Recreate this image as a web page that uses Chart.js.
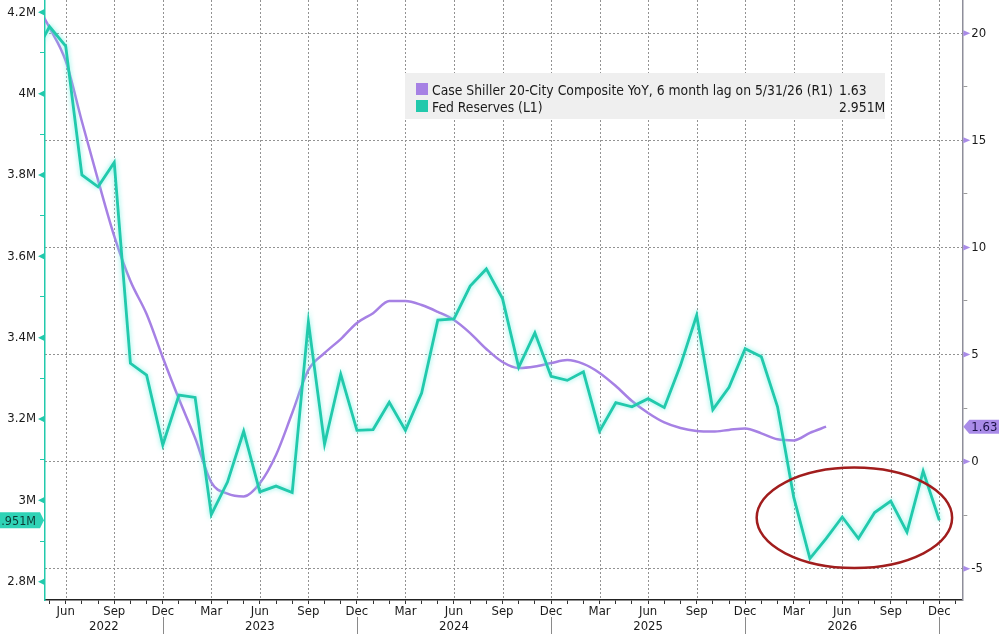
<!DOCTYPE html>
<html>
<head>
<meta charset="utf-8">
<script src="https://cdn.jsdelivr.net/npm/chart.js"></script>
<style>
  html, body { margin: 0; padding: 0; background: #fff; }
  #wrap { position: relative; width: 999px; height: 639px; }
  #legend { position: absolute; left: 405px; top: 73px; width: 480px; height: 46px; background: #efefef;
            font: 13.8px "DejaVu Sans Condensed", "DejaVu Sans", sans-serif; color: #1a1a1a; }
  #legend .sw { position: absolute; left: 11px; width: 12px; height: 12px; }
  #legend .tx { position: absolute; left: 27px; line-height: 16px; white-space: nowrap; }
  #legend .vl { position: absolute; left: 434px; line-height: 16px; white-space: nowrap; }
</style>
</head>
<body>
<div id="wrap">
  <canvas id="myChart" width="999" height="639"></canvas>
  <div id="legend">
    <div class="sw" style="top:10px;background:#a681e4"></div>
    <div class="tx" style="top:9px">Case Shiller 20-City Composite YoY, 6 month lag on 5/31/26 (R1)</div>
    <div class="vl" style="top:9px">1.63</div>
    <div class="sw" style="top:27px;background:#22c9ac"></div>
    <div class="tx" style="top:26px">Fed Reserves (L1)</div>
    <div class="vl" style="top:26px">2.951M</div>
  </div>
</div>
<script>
const FONT = '"DejaVu Sans Condensed", "DejaVu Sans", sans-serif';
const TEAL = '#22c9ac';
const PURPLE = '#a681e4';

// monthly observations, Apr 2022 .. Dec 2026
const months = [
  '2022-04','2022-05','2022-06','2022-07','2022-08','2022-09','2022-10','2022-11','2022-12',
  '2023-01','2023-02','2023-03','2023-04','2023-05','2023-06','2023-07','2023-08','2023-09','2023-10','2023-11','2023-12',
  '2024-01','2024-02','2024-03','2024-04','2024-05','2024-06','2024-07','2024-08','2024-09','2024-10','2024-11','2024-12',
  '2025-01','2025-02','2025-03','2025-04','2025-05','2025-06','2025-07','2025-08','2025-09','2025-10','2025-11','2025-12',
  '2026-01','2026-02','2026-03','2026-04','2026-05','2026-06','2026-07','2026-08','2026-09','2026-10','2026-11','2026-12'
];

// Fed Reserves, millions (left axis)
const fedReserves = [
  4.09, 4.165, 4.117, 3.800, 3.771, 3.831, 3.337, 3.308, 3.136,
  3.259, 3.253, 2.965, 3.045, 3.170, 3.021, 3.035, 3.019, 3.439, 3.138, 3.310, 3.172,
  3.174, 3.241, 3.172, 3.264, 3.443, 3.446, 3.527, 3.569, 3.496, 3.327, 3.412, 3.305,
  3.295, 3.316, 3.170, 3.240, 3.230, 3.250, 3.228, 3.332, 3.455, 3.223, 3.278, 3.373,
  3.353, 3.230, 3.008, 2.857, 2.906, 2.959, 2.906, 2.970, 2.998, 2.922, 3.072, 2.951
];

// Case Shiller 20-City YoY %, 6 month lag (right axis), Apr 2022 .. May 2026
const caseShiller = [
  21.6, 20.26, 18.71, 15.88, 13.14, 10.53, 8.43, 6.89, 4.86,
  2.92, 1.10, -0.97, -1.50, -1.63, -1.01, 0.31, 2.27, 4.28, 5.07, 5.72, 6.47,
  6.93, 7.50, 7.50, 7.31, 6.99, 6.61, 6.00, 5.26, 4.65, 4.37, 4.44, 4.60,
  4.74, 4.56, 4.14, 3.53, 2.83, 2.27, 1.83, 1.57, 1.43, 1.40, 1.48, 1.55,
  1.32, 1.04, 0.99, 1.34, 1.63
];

const monthNames = ['Jan','Feb','Mar','Apr','May','Jun','Jul','Aug','Sep','Oct','Nov','Dec'];
const years = [2022, 2023, 2024, 2025, 2026];
const leftTicks = [2.8, 2.9, 3.0, 3.1, 3.2, 3.3, 3.4, 3.5, 3.6, 3.7, 3.8, 3.9, 4.0, 4.1, 4.2];
const rightTicks = [-5, -2.5, 0, 2.5, 5, 7.5, 10, 12.5, 15, 17.5, 20];

// months since Jan 2022
function mIdx(s) {
  const [y, m] = s.split('-').map(Number);
  return (y - 2022) * 12 + (m - 1);
}
const tickMonths = [];
for (let m = 4; m <= 60; m++) tickMonths.push(m);
const isQuarter = m => m % 3 === 2;

const fedPoints = months.map((d, i) => ({ x: mIdx(d), y: fedReserves[i] }));
const csPoints = caseShiller.map((v, i) => ({ x: mIdx(months[i]), y: v }));

// circled region (data units)
const circled = { x: 53.75, y: 2.957, rx: 6.04, ry: 0.1235 };

const isLeftMajor = v => Math.round(v * 10) % 2 === 0;
const isRightMajor = v => Math.abs(v % 5) < 1e-9;

// no label overflow padding: plot runs to the top edge
const noPad = s => { s.paddingTop = 0; s.paddingBottom = 0; };

const decor = {
  id: 'decor',
  beforeDatasetsDraw(chart) {
    // quarterly vertical grid
    const { ctx, chartArea: a, scales: { x } } = chart;
    ctx.save();
    ctx.strokeStyle = '#929292';
    ctx.lineWidth = 1;
    ctx.setLineDash([2, 2]);
    tickMonths.filter(isQuarter).forEach(m => {
      const px = Math.round(x.getPixelForValue(m)) + 0.5;
      ctx.beginPath();
      ctx.moveTo(px, a.top);
      ctx.lineTo(px, a.bottom);
      ctx.stroke();
    });
    ctx.restore();
  },
  beforeDatasetDraw(chart, args) {
    if (args.index === 0) {
      chart.ctx.save();
      chart.ctx.shadowColor = 'rgba(110,240,225,0.9)';
      chart.ctx.shadowBlur = 5;
    }
  },
  afterDatasetDraw(chart, args) {
    if (args.index === 0) chart.ctx.restore();
  },
  afterDraw(chart) {
    const { ctx, chartArea: a, scales: { x, yL, yR } } = chart;
    ctx.save();

    // ellipse
    const cx = x.getPixelForValue(circled.x), cy = yL.getPixelForValue(circled.y);
    const rx = x.getPixelForValue(circled.x + circled.rx) - cx;
    const ry = cy - yL.getPixelForValue(circled.y + circled.ry);
    ctx.strokeStyle = '#a11d1d';
    ctx.lineWidth = 2.5;
    ctx.beginPath();
    ctx.ellipse(cx, cy, rx, ry, 0, 0, Math.PI * 2);
    ctx.stroke();

    // axis markers
    leftTicks.filter(isLeftMajor).forEach(v => {
      const py = yL.getPixelForValue(v);
      ctx.fillStyle = TEAL;
      ctx.beginPath();
      ctx.moveTo(a.left - 7, py);
      ctx.lineTo(a.left - 1, py - 3);
      ctx.lineTo(a.left - 1, py + 3);
      ctx.closePath();
      ctx.fill();
    });
    rightTicks.filter(isRightMajor).forEach(v => {
      const py = yR.getPixelForValue(v);
      ctx.fillStyle = '#a98be8';
      ctx.beginPath();
      ctx.moveTo(a.right + 8, py);
      ctx.lineTo(a.right + 1, py - 3);
      ctx.lineTo(a.right + 1, py + 3);
      ctx.closePath();
      ctx.fill();
    });

    // year labels and separators
    ctx.font = '13px ' + FONT;
    ctx.fillStyle = '#1a1a1a';
    ctx.textAlign = 'center';
    ctx.textBaseline = 'middle';
    years.forEach(yr => {
      const s = (yr - 2022) * 12 - 1, e = s + 12;
      const lo = Math.max(s, x.min), hi = Math.min(e, x.max);
      ctx.fillText(String(yr), x.getPixelForValue((lo + hi) / 2), a.bottom + 27);
      if (e <= x.max) {
        const px = Math.round(x.getPixelForValue(e)) + 0.5;
        ctx.strokeStyle = '#8a8a8a';
        ctx.lineWidth = 1;
        ctx.beginPath();
        ctx.moveTo(px, a.bottom + 17);
        ctx.lineTo(px, a.bottom + 34);
        ctx.stroke();
      }
    });

    // last value badges
    const lastFed = fedReserves[fedReserves.length - 1];
    const ly = yL.getPixelForValue(lastFed);
    ctx.fillStyle = '#2fd3b6';
    ctx.beginPath();
    ctx.moveTo(0, ly - 8);
    ctx.lineTo(a.left - 5, ly - 8);
    ctx.lineTo(a.left - 1, ly);
    ctx.lineTo(a.left - 5, ly + 8);
    ctx.lineTo(0, ly + 8);
    ctx.closePath();
    ctx.fill();
    ctx.font = '12.5px ' + FONT;
    ctx.fillStyle = '#0c3a35';
    ctx.textAlign = 'right';
    ctx.fillText(lastFed.toFixed(3) + 'M', a.left - 9, ly + 1);

    const lastCs = caseShiller[caseShiller.length - 1];
    const ry2 = yR.getPixelForValue(lastCs);
    ctx.fillStyle = '#a98be8';
    ctx.beginPath();
    ctx.moveTo(a.right + 1, ry2);
    ctx.lineTo(a.right + 7, ry2 - 7);
    ctx.lineTo(chart.width, ry2 - 7);
    ctx.lineTo(chart.width, ry2 + 7);
    ctx.lineTo(a.right + 7, ry2 + 7);
    ctx.closePath();
    ctx.fill();
    ctx.font = '13px ' + FONT;
    ctx.fillStyle = '#1c1248';
    ctx.textAlign = 'left';
    ctx.fillText(lastCs.toFixed(2), a.right + 9, ry2 + 1);

    ctx.restore();
  }
};

const ctx = document.getElementById('myChart').getContext('2d');
const chart = new Chart(ctx, {
  type: 'line',
  data: {
    datasets: [
      {
        label: 'Fed Reserves (L1)',
        data: fedPoints,
        yAxisID: 'yL',
        borderColor: TEAL,
        borderWidth: 2.8,
        pointRadius: 0,
        tension: 0,
      },
      {
        label: 'Case Shiller 20-City Composite YoY, 6 month lag on 5/31/26 (R1)',
        data: csPoints,
        yAxisID: 'yR',
        borderColor: PURPLE,
        borderWidth: 2.5,
        pointRadius: 0,
        cubicInterpolationMode: 'monotone',
      }
    ]
  },
  options: {
    responsive: false,
    animation: false,
    layout: { padding: 0 },
    plugins: { legend: { display: false }, tooltip: { enabled: false } },
    scales: {
      x: {
        type: 'linear',
        min: 3.72,
        max: 60.42,
        afterBuildTicks: s => { s.ticks = tickMonths.map(v => ({ value: v })); },
        afterFit: s => { s.height = 39; s.paddingLeft = 0; s.paddingRight = 0; },
        ticks: {
          autoSkip: false, maxRotation: 0, padding: 0, color: '#1a1a1a',
          font: { family: FONT, size: 13 },
          callback: v => (isQuarter(v) ? monthNames[v % 12] : '')
        },
        grid: { drawOnChartArea: false, tickColor: '#333', tickLength: 4, lineWidth: 1 },
        border: { color: '#222', width: 1.5 }
      },
      yL: {
        position: 'left',
        min: 2.755,
        max: 4.2302,
        afterBuildTicks: s => { s.ticks = leftTicks.map(v => ({ value: v })); },
        afterFit: s => { s.width = 45; noPad(s); },
        ticks: {
          padding: 4, color: '#1a1a1a', font: { family: FONT, size: 13 },
          callback: v => (isLeftMajor(v) ? (+v.toFixed(1)) + 'M' : '')
        },
        grid: { drawOnChartArea: false, tickColor: TEAL, tickLength: 5 },
        border: { color: TEAL, width: 1.5 }
      },
      yR: {
        position: 'right',
        min: -6.463,
        max: 21.554,
        afterBuildTicks: s => { s.ticks = rightTicks.map(v => ({ value: v })); },
        afterFit: s => { s.width = 36.7; noPad(s); },
        ticks: {
          padding: 4, color: '#1a1a1a', font: { family: FONT, size: 13 },
          callback: v => (isRightMajor(v) ? String(v) : '')
        },
        grid: {
          color: c => (c.tick && isRightMajor(c.tick.value)) ? '#929292' : 'rgba(0,0,0,0)',
          tickColor: '#999', tickLength: 5, lineWidth: 1
        },
        border: { color: '#8e8e9a', width: 1.5, dash: [2, 2] }
      }
    }
  },
  plugins: [decor]
});
</script>
</body>
</html>
